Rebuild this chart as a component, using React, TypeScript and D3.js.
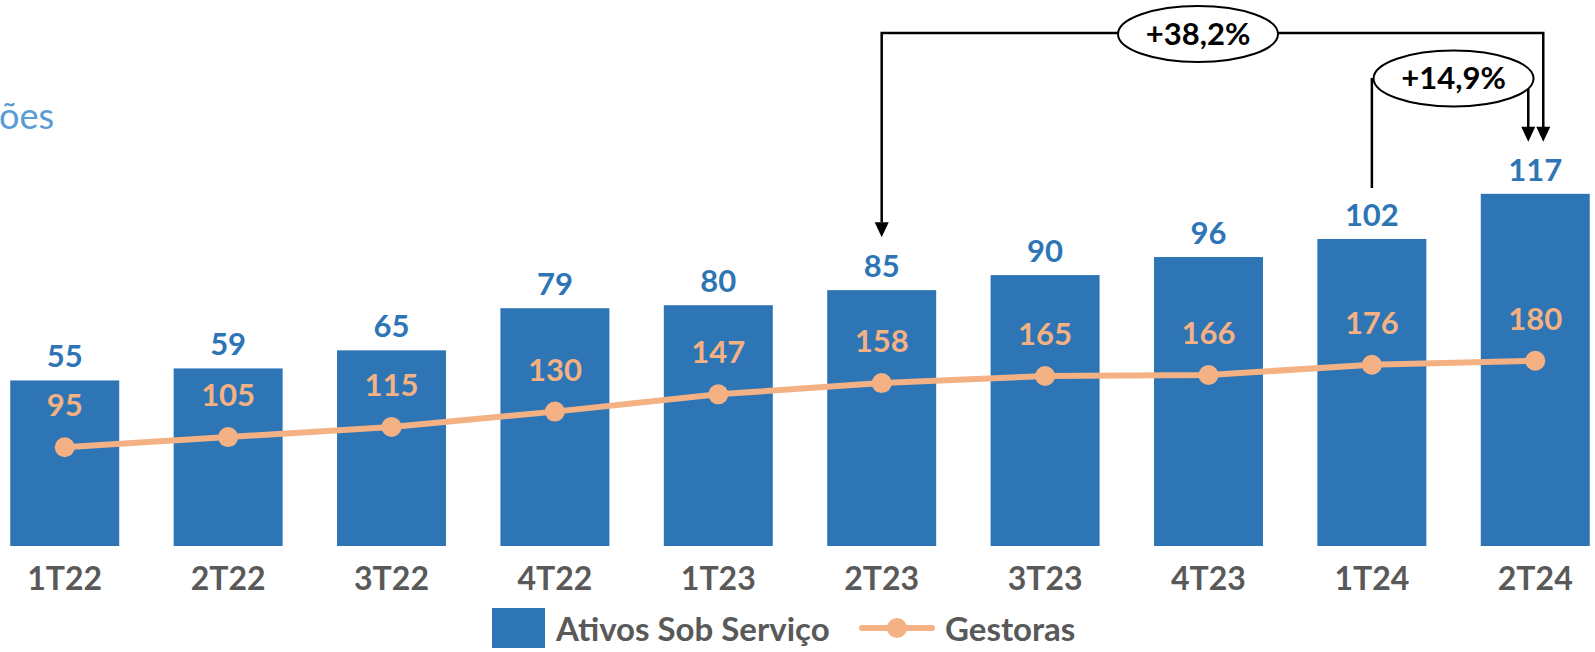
import * as d3 from "d3";

const categories = ["1T22", "2T22", "3T22", "4T22", "1T23", "2T23", "3T23", "4T23", "1T24", "2T24"];
const ativos = [55, 59, 65, 79, 80, 85, 90, 96, 102, 117];
const gestoras = [95, 105, 115, 130, 147, 158, 165, 166, 176, 180];
const growthLabels = ["+38,2%", "+14,9%"];
const legendLabels = ["Ativos Sob Serviço", "Gestoras"];

const W = 1595;
const H = 652;
const BLUE = "#2E75B6";
const ORANGE = "#F4B183";
const GREY = "#595959";
const FONT = "Lato, 'Open Sans', sans-serif";

const Arrow = ({ x, y }: { x: number; y: number }) => (
  <path d={`M${x - 7},${y - 15}L${x + 7},${y - 15}L${x},${y}Z`} fill="#000" />
);

const App = () => {
  // bars on the left axis, line on a hidden right axis
  const x = d3.scaleBand().domain(categories).range([-17, 1617]).paddingInner(0.333).paddingOuter(0.1667);
  const y = d3.scaleLinear().domain([0, 120]).range([546, 546 - 361.2]);
  const y2 = d3.scaleLinear().domain([0, 180]).range([544, 360.7]);
  const cx = (c: string) => (x(c) ?? 0) + x.bandwidth() / 2;

  const line = d3
    .line<number>()
    .x((_, i) => cx(categories[i]))
    .y((d) => y2(d));

  // annotation geometry
  const from1 = cx(categories[5]);
  const from2 = cx(categories[8]);
  const to = cx(categories[9]);
  const topY = 33;
  const tip = (i: number) => y(ativos[i]) - 54;

  return (
    <svg width={W} height={H} style={{ position: "absolute", left: 0, top: 0 }} fontFamily={FONT}>
      <text x={54} y={129} textAnchor="end" fontSize={36} fill="#5B9BD5">ões</text>

      {categories.map((c, i) => (
        <rect key={c} x={x(c)} y={y(ativos[i])} width={x.bandwidth()} height={y(0) - y(ativos[i])} fill={BLUE} />
      ))}
      {categories.map((c, i) => (
        <text key={c} x={cx(c)} y={y(ativos[i]) - 13} textAnchor="middle" fontSize={31} fontWeight={700} fill={BLUE}>
          {ativos[i]}
        </text>
      ))}

      <path d={line(gestoras) ?? ""} fill="none" stroke={ORANGE} strokeWidth={6} />
      {categories.map((c, i) => (
        <circle key={c} cx={cx(c)} cy={y2(gestoras[i])} r={10} fill={ORANGE} />
      ))}
      {categories.map((c, i) => (
        <text key={c} x={cx(c)} y={y2(gestoras[i]) - 31} textAnchor="middle" fontSize={31} fontWeight={700} fill={ORANGE}>
          {gestoras[i]}
        </text>
      ))}

      {categories.map((c) => (
        <text key={c} x={cx(c)} y={590} textAnchor="middle" fontSize={32} fontWeight={700} fill={GREY}>
          {c}
        </text>
      ))}

      {/* +38,2% bracket */}
      <path
        d={`M${from1},${tip(5) - 14}V${topY}H${to + 8}V${tip(9) + 2 - 14}`}
        fill="none"
        stroke="#000"
        strokeWidth={2.5}
      />
      <Arrow x={from1} y={tip(5) + 1} />
      <Arrow x={to + 8} y={tip(9) + 2} />
      <ellipse cx={1198} cy={34} rx={80} ry={28} fill="#fff" stroke="#000" strokeWidth={2} />
      <text x={1198} y={44.5} textAnchor="middle" fontSize={31} fontWeight={700} fill="#000">{growthLabels[0]}</text>

      {/* +14,9% bracket */}
      <path d={`M${from2},${tip(8) + 3}V78`} fill="none" stroke="#000" strokeWidth={2.5} />
      <path d={`M${to - 7},78V${tip(9) + 2 - 14}`} fill="none" stroke="#000" strokeWidth={2.5} />
      <Arrow x={to - 7} y={tip(9) + 2} />
      <ellipse cx={(from2 + to) / 2} cy={78.5} rx={80} ry={28} fill="#fff" stroke="#000" strokeWidth={2} />
      <text x={(from2 + to) / 2} y={89} textAnchor="middle" fontSize={31} fontWeight={700} fill="#000">{growthLabels[1]}</text>

      {/* legend */}
      <rect x={492} y={608} width={53} height={40} fill={BLUE} />
      <text x={556} y={641} fontSize={33} fontWeight={700} fill={GREY}>{legendLabels[0]}</text>
      <line x1={862} x2={932} y1={628} y2={628} stroke={ORANGE} strokeWidth={6} strokeLinecap="round" />
      <circle cx={897} cy={628} r={10} fill={ORANGE} />
      <text x={945} y={641} fontSize={33} fontWeight={700} fill={GREY}>{legendLabels[1]}</text>
    </svg>
  );
};

export default App;
